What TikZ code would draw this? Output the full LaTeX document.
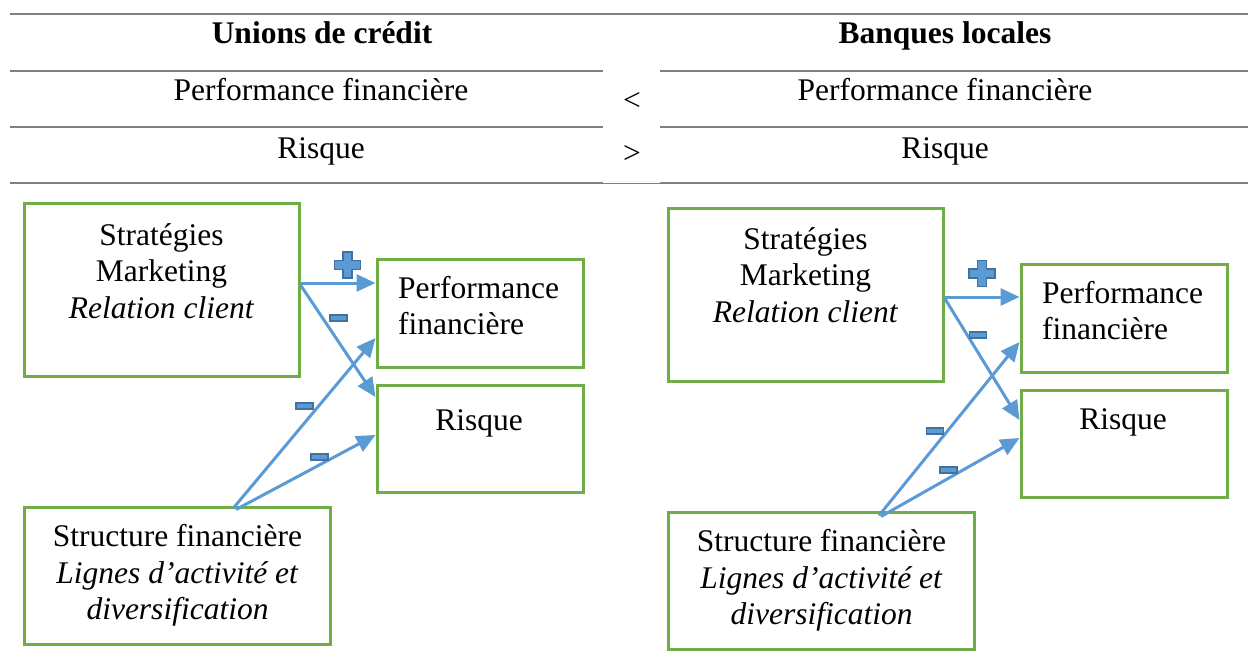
\documentclass[tikz,border=0pt]{standalone}
\usepackage{fontspec}
\setmainfont{Liberation Serif}
\usetikzlibrary{arrows.meta}

\definecolor{boxgreen}{HTML}{70AD47}
\definecolor{arrowblue}{HTML}{5B9BD5}
\definecolor{signblue}{HTML}{41719C}
\definecolor{rulegray}{HTML}{808080}

\begin{document}
\begin{tikzpicture}[x=1pt, y=-1pt, >={Triangle[length=19pt,width=17pt]},
    every node/.style={font=\fontsize{31.5}{36.5}\selectfont, inner sep=0pt},
    rule/.style={rulegray, line width=1.8pt},
    box/.style={draw=boxgreen, line width=3pt, rectangle},
    link/.style={->, arrowblue, line width=3pt},
    minus/.style={draw=signblue, fill=arrowblue, line width=1.5pt, minimum width=17pt, minimum height=6pt},
    plussign/.pic={\draw[signblue, fill=arrowblue, line width=1.5pt] (-4.5,-13) -- (4.5,-13) -- (4.5,-4.5) -- (13,-4.5) -- (13,4.5) -- (4.5,4.5) -- (4.5,13) -- (-4.5,13) -- (-4.5,4.5) -- (-13,4.5) -- (-13,-4.5) -- (-4.5,-4.5) -- cycle;}]
    \useasboundingbox (0,0) rectangle (1248,669);

    % table
    \draw[rule] (10,14) -- (1248,14);
    \foreach \y in {71,127,183}{
        \draw[rule] (10,\y) -- (603,\y);
        \draw[rule] (660,\y) -- (1248,\y);
    }
    \draw[rulegray, line width=1pt] (603,183) -- (660,183);
    \node[anchor=base, font=\fontsize{31.5}{36.5}\selectfont\bfseries] (tuc) at (322,44) {Unions de crédit};
    \node[anchor=base, font=\fontsize{31.5}{36.5}\selectfont\bfseries] (tbl) at (945,44) {Banques locales};
    \node[anchor=base] (tpl) at (321,100) {Performance financière};
    \node[anchor=base] (tpr) at (945,100) {Performance financière};
    \node[anchor=base] (trl) at (321,158) {Risque};
    \node[anchor=base] (trr) at (945,158) {Risque};
    \node (tlt) at (632,101) {<};
    \node (tgt) at (632,154) {>};

    % unions de credit
    \node[box, minimum width=275pt, minimum height=173pt] (sl) at (161.5,289.5) {};
    \node[box, minimum width=206pt, minimum height=108pt] (pl) at (480,313) {};
    \node[box, minimum width=206pt, minimum height=107pt] (rl) at (480,438.5) {};
    \node[box, minimum width=306pt, minimum height=137pt] (sbl) at (177,575.5) {};
    \node[anchor=base, align=center] (slt) at (161.5,318) {Stratégies\\Marketing\\\textit{Relation client}};
    \node[anchor=base west, align=left] (plt) at (398,334.5) {Performance\\financière};
    \node[anchor=base] (rlt) at (479,430) {Risque};
    \node[anchor=base, align=center] (sblt) at (177.5,619.5) {Structure financière\\\textit{Lignes d’activité et}\\\textit{diversification}};

    \draw[link] ([yshift=6.5pt]sl.east) -- ([yshift=30pt]pl.west);
    \draw[link] ([yshift=4.5pt]sl.east) -- ([yshift=41.5pt]rl.west);
    \draw[link] ([xshift=56pt,yshift=-3pt]sbl.north) -- ([yshift=-25pt]pl.west);
    \draw[link] ([xshift=59pt,yshift=-4pt]sbl.north) -- ([yshift=3.5pt]rl.west);
    \pic at (347.5,265) {plussign};
    \node[minus] (m1) at (338.5,318) {};
    \node[minus] (m2) at (304.5,406) {};
    \node[minus] (m3) at (319.5,457) {};

    % banques locales
    \node[box, minimum width=275pt, minimum height=173pt] (sr) at (805.5,294.5) {};
    \node[box, minimum width=206pt, minimum height=108pt] (pr) at (1124,318) {};
    \node[box, minimum width=206pt, minimum height=107pt] (rr) at (1124,443.5) {};
    \node[box, minimum width=306pt, minimum height=137pt] (sbr) at (821,580.5) {};
    \node[anchor=base, align=center] (srt) at (805.5,322) {Stratégies\\Marketing\\\textit{Relation client}};
    \node[anchor=base west, align=left] (prt) at (1042,339.5) {Performance\\financière};
    \node[anchor=base] (rrt) at (1123,429) {Risque};
    \node[anchor=base, align=center] (sbrt) at (821.5,624.5) {Structure financière\\\textit{Lignes d’activité et}\\\textit{diversification}};

    \draw[link] ([yshift=-2.5pt]sr.east) -- ([yshift=21pt]pr.west);
    \draw[link] ([yshift=-3.5pt]sr.east) -- ([yshift=23.5pt]rr.west);
    \draw[link] ([xshift=58pt,yshift=-5pt]sbr.north) -- ([yshift=-24pt]pr.west);
    \draw[link] ([xshift=60pt,yshift=-6pt]sbr.north) -- ([yshift=5.5pt]rr.west);
    \pic at (982,273.5) {plussign};
    \node[minus] (m4) at (978,335) {};
    \node[minus] (m5) at (935,431) {};
    \node[minus] (m6) at (948.5,470) {};
\end{tikzpicture}
\end{document}
